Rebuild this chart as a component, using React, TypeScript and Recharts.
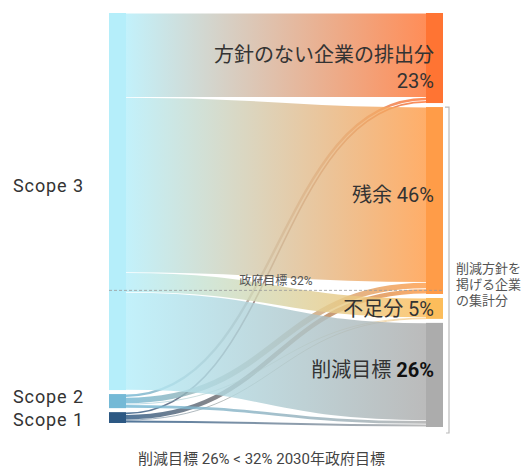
import { Sankey } from "recharts";

// nodes
const scopes = ["Scope 3", "Scope 2", "Scope 1"];
const outcomes = ["方針のない企業の排出分", "残余", "不足分", "削減目標"];
const outcomeLabels = ["23%", "46%", "5%", "26%"];

// share of total emissions per scope, split by outcome (%)
const scope3Values = [21.0, 43.6, 4.9, 24.3];
const scope2Values = [0.8, 1.6, 0.2, 0.9];
const scope1Values = [0.6, 1.3, 0.1, 0.7];

const governmentTarget = 32;
const caption = "削減目標 26% < 32% 2030年政府目標";
const bracketLines = ["削減方針を", "掲げる企業", "の集計分"];

const scopeColors = ["#b5eefa", "#74b9d6", "#2c5883"];
const outcomeColors = ["#ff7433", "#ff9c48", "#fcbd5b", "#acacac"];

const FONT = "Roboto, 'Noto Sans CJK JP', sans-serif";
const NODE_PADDING = 4;
const MARGIN = { top: 13, right: 80, bottom: 41, left: 109 };

const scopeRows = [scope3Values, scope2Values, scope1Values];

// small scopes first so the big Scope 3 bands are drawn over them
const linkSource: number[] = [];
const linkTarget: number[] = [];
const links: { source: number; target: number; value: number }[] = [];
[2, 1, 0].forEach((s) => {
  scopeRows[s].forEach((v, t) => {
    linkSource.push(s);
    linkTarget.push(t);
    links.push({ source: s, target: scopes.length + t, value: v });
  });
});

const data = {
  nodes: [...scopes, ...outcomes].map((name) => ({ name })),
  links,
};

const outcomesTotals = outcomes.map((_, t) => scopeRows.reduce((s, row) => s + row[t], 0));

// label baseline offsets from node centre
const scopeLabelDy = [-10, 2, 8];
const outcomeLabelDy = [4, 1, 8, 2];

const renderLink = (props: any) => {
  const { sourceX, targetX, sourceY, targetY, sourceControlX, targetControlX, linkWidth, index } = props;
  const id = `lg-${index}`;
  const from = scopeColors[linkSource[index]];
  const to = outcomeColors[linkTarget[index]];
  return (
    <g>
      <defs>
        <linearGradient id={id} gradientUnits="userSpaceOnUse" x1={sourceX} x2={targetX} y1={0} y2={0}>
          <stop offset="0%" stopColor={from} />
          <stop offset="100%" stopColor={to} />
        </linearGradient>
      </defs>
      <path
        d={`M${sourceX},${sourceY} C${sourceControlX},${sourceY} ${targetControlX},${targetY} ${targetX},${targetY}`}
        fill="none"
        stroke={`url(#${id})`}
        strokeWidth={Math.max(linkWidth - 0.8, 0.6)}
        strokeOpacity={0.82}
      />
    </g>
  );
};

const renderNode = (props: any) => {
  const { x, y, width, height, index, payload } = props;
  const cy = y + height / 2;
  if (index < scopes.length) {
    return (
      <g>
        <rect x={x} y={y} width={width} height={height} fill={scopeColors[index]} />
        <text x={13} y={cy + scopeLabelDy[index]} fontSize={18} fill="#333" fontFamily={FONT} letterSpacing={0.9}>
          {scopes[index]}
        </text>
      </g>
    );
  }
  const t = index - scopes.length;
  const tx = x + width - 9;
  const by = cy + outcomeLabelDy[t];
  let label;
  if (t === 0) {
    label = (
      <text x={tx} y={by} textAnchor="end" fontSize={20} fill="#333" fontFamily={FONT}>
        <tspan x={tx}>{outcomes[t]}</tspan>
        <tspan x={tx} dy={26}>{outcomeLabels[t]}</tspan>
      </text>
    );
  } else if (t === 3) {
    label = (
      <text x={tx} y={by} textAnchor="end" fontSize={20} fill="#333" fontFamily={FONT}>
        {outcomes[t]} <tspan fontWeight="bold" fill="#111">{outcomeLabels[t]}</tspan>
      </text>
    );
  } else {
    label = (
      <text x={tx} y={by} textAnchor="end" fontSize={20} fill="#333" fontFamily={FONT}>
        {outcomes[t]} {outcomeLabels[t]}
      </text>
    );
  }

  let extra = null;
  if (t === 3) {
    // government target line and bracket over the "companies with policy" nodes
    const ky = height / payload.value;
    const bottom = y + height;
    const lineY = bottom - governmentTarget * ky - 2 * NODE_PADDING;
    const bracketTop = bottom - (payload.value + outcomesTotals[1] + outcomesTotals[2]) * ky - 2 * NODE_PADDING;
    const bx = x + width + 6;
    const bBottom = bottom + 6;
    const mid = (bracketTop + bBottom) / 2;
    extra = (
      <g>
        <line x1={MARGIN.left} x2={x + width} y1={lineY} y2={lineY} stroke="#999" strokeDasharray="3 2" strokeWidth={0.8} />
        <text x={(MARGIN.left + x + width) / 2} y={lineY - 5} textAnchor="middle" fontSize={12} fill="#555" fontFamily={FONT}>
          政府目標 {governmentTarget}%
        </text>
        <path d={`M${bx - 4},${bracketTop} H${bx} V${bBottom} H${bx - 3}`} fill="none" stroke="#bbb" strokeWidth={1.2} />
        {bracketLines.map((l, i) => (
          <text key={l} x={bx + 7} y={mid + 3 + i * 16} fontSize={13} fill="#555" fontFamily={FONT}>
            {l}
          </text>
        ))}
      </g>
    );
  }
  return (
    <g>
      <rect x={x} y={y} width={width} height={height} fill={outcomeColors[t]} />
      {extra}
      {label}
    </g>
  );
};

export default function App() {
  return (
    <div style={{ position: "absolute", left: 0, top: 0, width: 523, height: 468, background: "#fff", overflow: "hidden" }}>
      <Sankey
        width={523}
        height={468}
        data={data}
        node={renderNode}
        link={renderLink}
        nodeWidth={17}
        nodePadding={NODE_PADDING}
        iterations={0}
        margin={MARGIN}
      />
      <div
        style={{
          position: "absolute",
          left: 0,
          width: 523,
          top: 451,
          lineHeight: "17px",
          textAlign: "center",
          fontFamily: FONT,
          fontSize: 15,
          color: "#444",
        }}
      >
        {caption}
      </div>
    </div>
  );
}
